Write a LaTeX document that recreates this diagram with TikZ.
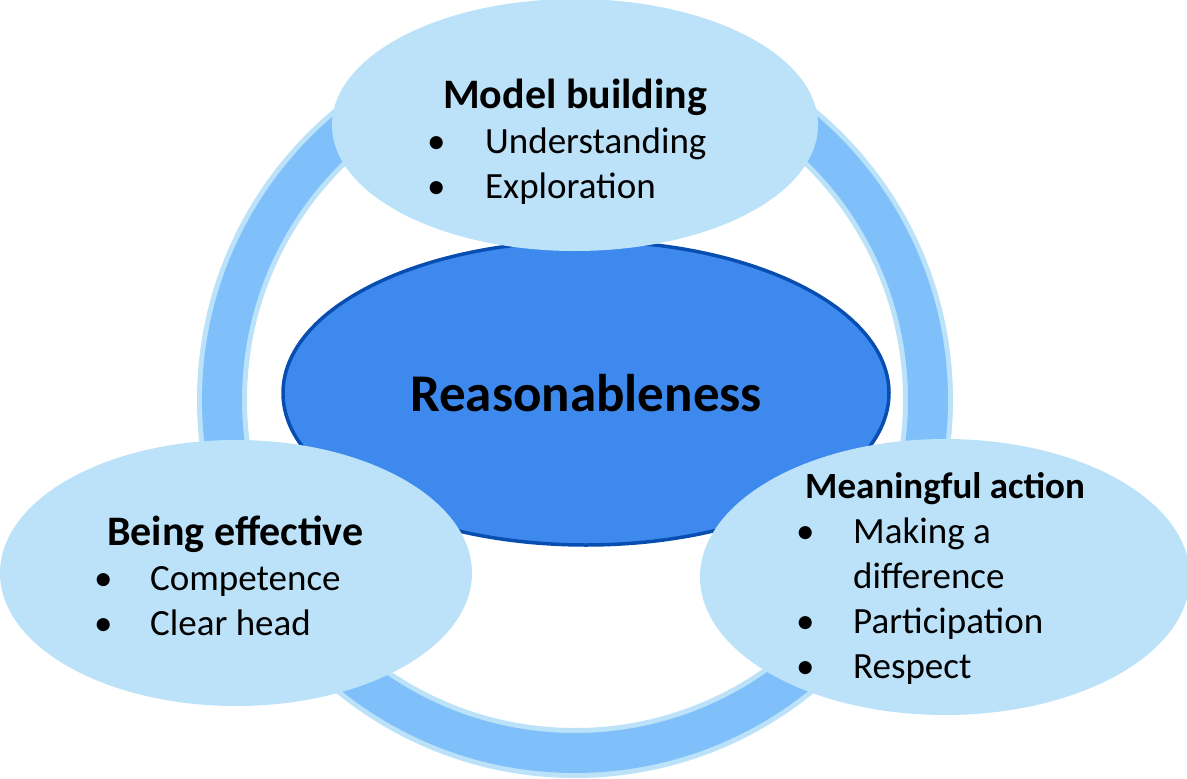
\documentclass[tikz,border=0pt]{standalone}
\usepackage{fontspec}
\setmainfont{Carlito}
\usepackage{array}
\usetikzlibrary{shapes.geometric}
\definecolor{paleblue}{RGB}{187,226,248}
\definecolor{bandblue}{RGB}{128,192,250}
\definecolor{coreblue}{RGB}{61,137,238}
\definecolor{coreline}{RGB}{8,78,176}

\begin{document}
\begin{tikzpicture}[x=1pt, y=-1pt,
  ringbase/.style={circle, draw=paleblue, line width=50pt, minimum size=706pt, inner sep=0pt},
  band/.style={draw=bandblue, line width=40pt},
  core/.style={ellipse, draw=coreline, line width=3.5pt, fill=coreblue, inner sep=0pt},
  petal/.style={ellipse, fill=paleblue, inner sep=0pt},
  blist/.style={anchor=base west, inner sep=0pt, font=\fontsize{37}{45}\selectfont}
]
\useasboundingbox (0,0) rectangle (1187,779);
% ring behind everything
\node[ringbase] (ring) at (575,400) {};
\draw[band] (ring.center) circle[radius=353];
% centre
\node[core, minimum width=606pt, minimum height=304pt] (core) at (586,393) {};
\node[anchor=base, inner sep=0pt, font=\fontsize{53}{60}\selectfont\bfseries] (corelbl) at (586,411) {Reasonableness};
% three petals
\node[petal, minimum width=486pt, minimum height=252pt] (model) at (575,125) {};
\node[petal, minimum width=472pt, minimum height=266pt] (effect) at (236,573) {};
\node[petal, minimum width=490pt, minimum height=276pt] (action) at (945,577) {};
\node[blist] (modeltxt) at (427,108) {\begin{tabular}[t]{@{}p{58pt}@{}l@{}}
  \multicolumn{2}{@{\hspace{16pt}}l@{}}{\fontsize{42}{45}\selectfont\bfseries Model building}\\
  \textbullet & Understanding\\
  \textbullet & Exploration
\end{tabular}};
\node[blist] (effecttxt) at (94,545) {\begin{tabular}[t]{@{}p{56pt}@{}l@{}}
  \multicolumn{2}{@{\hspace{13pt}}l@{}}{\fontsize{42}{45}\selectfont\bfseries Being effective}\\
  \textbullet & Competence\\
  \textbullet & Clear head
\end{tabular}};
\node[blist] (actiontxt) at (796,498) {\begin{tabular}[t]{@{}p{57pt}@{}l@{}}
  \multicolumn{2}{@{\hspace{9pt}}l@{}}{\fontsize{37}{45}\selectfont\bfseries Meaningful action}\\
  \textbullet & Making a\\
   & difference\\
  \textbullet & Participation\\
  \textbullet & Respect
\end{tabular}};
\end{tikzpicture}
\end{document}
